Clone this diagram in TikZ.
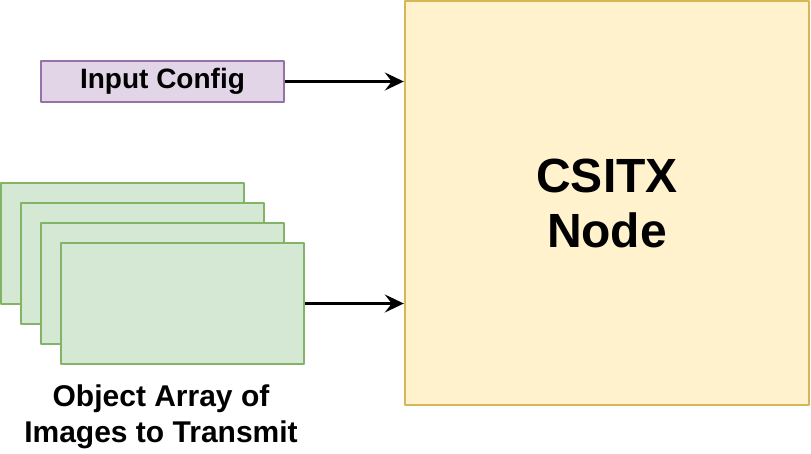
\documentclass[tikz,border=0pt]{standalone}
\usepackage{fontspec}
\setmainfont{Liberation Sans}
\usepackage{tikz}
\usetikzlibrary{positioning,arrows.meta}

\definecolor{cfgfill}{HTML}{E1D5E7}
\definecolor{cfgline}{HTML}{9673A6}
\definecolor{imgfill}{HTML}{D5E8D4}
\definecolor{imgline}{HTML}{82B366}
\definecolor{csifill}{HTML}{FFF2CC}
\definecolor{csiline}{HTML}{D6B656}

\tikzset{
  cfgbox/.style={draw=cfgline,fill=cfgfill,line width=2.4pt,inner sep=0pt,
    minimum width=243pt,minimum height=41pt,font=\bfseries\fontsize{28}{32}\selectfont},
  imgbox/.style={draw=imgline,fill=imgfill,line width=2.4pt,inner sep=0pt,
    minimum width=243pt,minimum height=121pt},
  csibox/.style={draw=csiline,fill=csifill,line width=2.4pt,inner sep=0pt,align=center,
    minimum width=404pt,minimum height=404pt,font=\bfseries\fontsize{48}{55}\selectfont},
  link/.style={line width=2.4pt,-{Stealth[length=19pt,width=18pt,inset=7pt]}}
}

\begin{document}
\begin{tikzpicture}[x=1pt,y=-1pt,line join=round]
\useasboundingbox (0,0) rectangle (811,453);

%main block
\node[csibox] (csitx) at (607,203) {CSITX\\Node};

%inputs
\node[cfgbox] (cfg) at (162.5,81.5) {Input Config};

\foreach \i in {1,...,4}
  \node[imgbox] (img\i) at ({122.5+20*(\i-1)},{243.5+20*(\i-1)}) {};

\node[align=center,inner sep=0pt,font=\bfseries\fontsize{30}{36}\selectfont] (lbl) at (161,417)
  {Object Array of\\Images to Transmit};

%connectors
\draw[link] (cfg.east) -- (cfg.east -| csitx.west);
\draw[link] (img4.east) -- (img4.east -| csitx.west);

\end{tikzpicture}
\end{document}
